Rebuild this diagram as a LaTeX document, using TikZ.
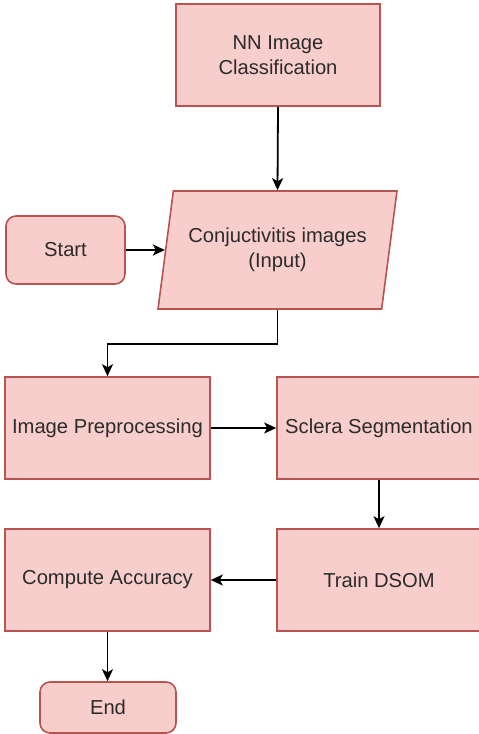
\documentclass[tikz,border=0pt]{standalone}
\usepackage{fontspec}
\setmainfont{Liberation Sans}
\usetikzlibrary{shapes.geometric,arrows.meta}
\definecolor{boxfill}{HTML}{F8CECC}
\definecolor{boxline}{HTML}{B85450}
\definecolor{labeltext}{HTML}{2B2B2B}
\begin{document}
\begin{tikzpicture}[x=1pt,y=-1pt,
  base/.style={draw=boxline,fill=boxfill,line width=1.6pt,text=labeltext,
    font=\fontsize{20.2}{25.5}\selectfont,align=center,inner sep=0pt},
  procbox/.style={base,rectangle,minimum width=204pt,minimum height=102pt},
  termbox/.style={base,rectangle,rounded corners=10pt},
  iobox/.style={base,trapezium,trapezium left angle=73.5,trapezium right angle=106.5,
    trapezium stretches=true,minimum width=239pt,minimum height=118pt},
  flow/.style={draw=black,line width=1.8pt,-{Stealth[length=12pt,width=11pt,inset=3pt]}}]
\useasboundingbox (0,0) rectangle (479,734);

\node[procbox] (nn) at (278,55) {NN Image\\Classification};
\node[iobox] (input) at (277.5,250) {Conjuctivitis images\\(Input)};
\node[termbox,minimum width=119pt,minimum height=68pt] (start) at (65.5,250) {Start};
\node[procbox,minimum width=205pt] (prep) at (107.5,428) {Image Preprocessing};
\node[procbox] (sclera) at (379,428) {Sclera Segmentation};
\node[procbox,minimum width=205pt] (acc) at (107.5,580) {Compute Accuracy};
\node[procbox] (train) at (379,580) {Train DSOM};
\node[termbox,minimum width=136pt,minimum height=51pt] (end) at (108,707.5) {End};

\draw[flow] (nn.south) -- (input.north);
\draw[flow] (start.east) -- (input.west);
\draw[flow] (input.south) -- ++(0,34) -| (prep.north);
\draw[flow] (prep.east) -- (sclera.west);
\draw[flow] (sclera.south) -- (train.north);
\draw[flow] (train.west) -- (acc.east);
\draw[flow] (acc.south) -- (acc.south |- end.north);
\end{tikzpicture}
\end{document}
